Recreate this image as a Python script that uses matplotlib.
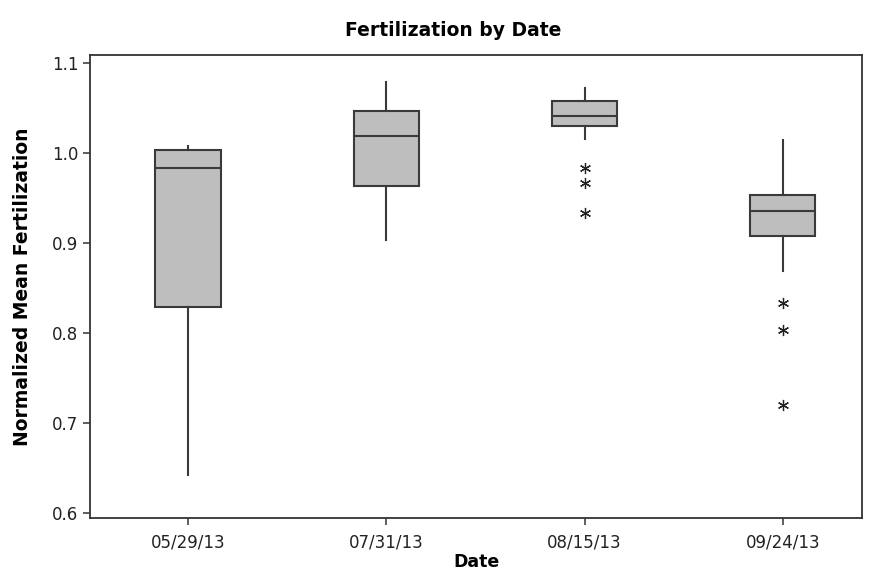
import matplotlib
matplotlib.use("Agg")
import matplotlib.pyplot as plt

# Values
dates = ['05/29/13', '07/31/13', '08/15/13', '09/24/13']
whisker_low = [0.642, 0.903, 1.016, 0.869]
q1 = [0.829, 0.963, 1.030, 0.908]
median = [0.983, 1.019, 1.041, 0.936]
q3 = [1.003, 1.047, 1.058, 0.953]
whisker_high = [1.008, 1.079, 1.072, 1.014]
outliers = [[], [], [0.983, 0.967, 0.933], [0.833, 0.803, 0.720]]
y_ticks = [0.6, 0.7, 0.8, 0.9, 1.0, 1.1]

stats = []
for i, d in enumerate(dates):
    stats.append({
        'label': d,
        'whislo': whisker_low[i],
        'q1': q1[i],
        'med': median[i],
        'q3': q3[i],
        'whishi': whisker_high[i],
        'fliers': outliers[i],
    })

fig = plt.figure(figsize=(8.71, 5.79), dpi=100)
ax = fig.add_axes([0.1033, 0.1054, 0.8864, 0.7996])

edge = '#3a3a3a'
ax.bxp(stats, positions=range(1, len(dates) + 1), widths=0.33,
       patch_artist=True, showcaps=False,
       boxprops=dict(facecolor='#bebebe', edgecolor=edge, linewidth=1.5),
       medianprops=dict(color=edge, linewidth=1.5),
       whiskerprops=dict(color=edge, linewidth=1.5),
       flierprops=dict(marker=(6, 2, 0), markersize=8, markeredgecolor='#222222',
                       markeredgewidth=0.9, linestyle='none'))

ax.set_xlim(0.505, 4.40)
ax.set_ylim(0.594, 1.109)
ax.set_yticks(y_ticks)
ax.set_yticklabels([f'{v:.1f}' for v in y_ticks])

for s in ax.spines.values():
    s.set_color('#333333')
    s.set_linewidth(1.3)
ax.tick_params(axis='both', direction='out', length=5, width=1.1, color='#333333',
               labelsize=12, labelcolor='#222222')
ax.tick_params(axis='x', pad=6)

ax.set_xlabel('Date', fontsize=12.5, fontweight='bold', labelpad=1)
ax.set_ylabel('Normalized Mean Fertilization', fontsize=13.5, fontweight='bold', labelpad=14)
fig.text(0.52, 0.948, 'Fertilization by Date', ha='center', va='center',
         fontsize=13.5, fontweight='bold')

fig.savefig('out.png', dpi=100)
